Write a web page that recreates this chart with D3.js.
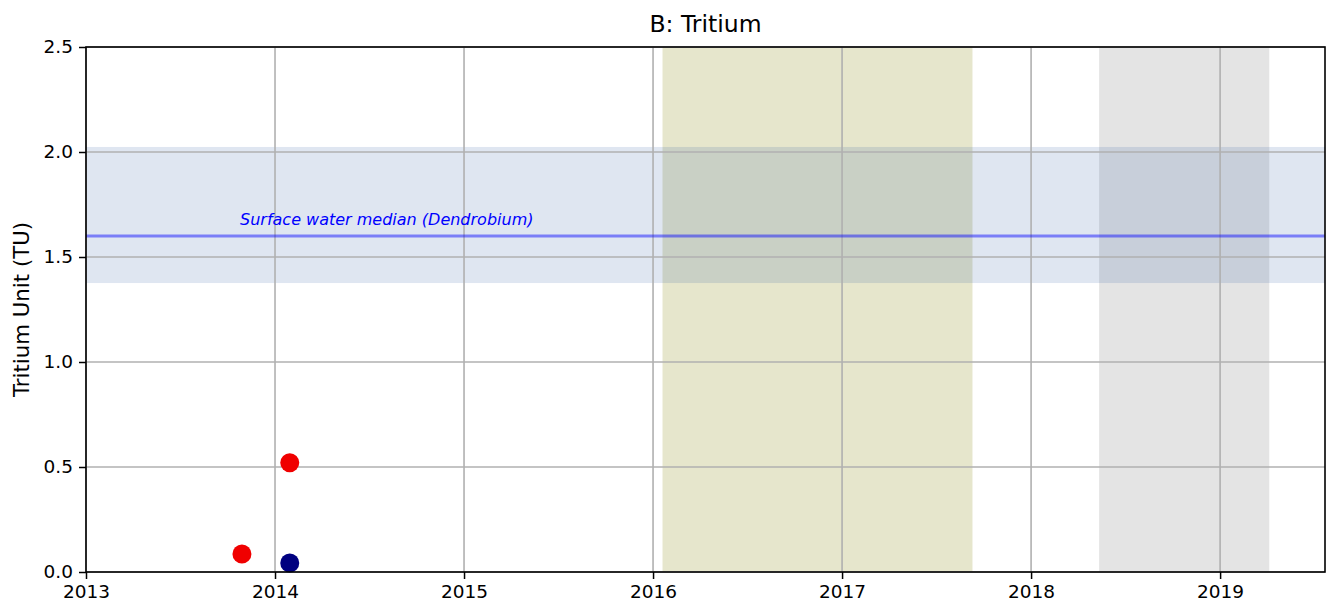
<!DOCTYPE html>
<html><head><meta charset="utf-8">
<script src="https://cdn.jsdelivr.net/npm/d3@7"></script>
<style>body{margin:0;background:#fff;} text{font-family:"DejaVu Sans",sans-serif;}</style>
</head><body>
<svg id="c" width="1331" height="608"></svg>
<script>
const title = "B: Tritium";
const yLabel = "Tritium Unit (TU)";
const xDomain = [2013, 2019.555];
const yDomain = [0, 2.5];
const xTicks = [2013, 2014, 2015, 2016, 2017, 2018, 2019];
const yTicks = [0, 0.5, 1.0, 1.5, 2.0, 2.5];
const redX = [2013.825, 2014.078];
const redY = [0.086, 0.52];
const navyX = [2014.078];
const navyY = [0.043];
const bandRange = [1.376, 2.024];
const medianValue = 1.6;
const medianLabel = "Surface water median (Dendrobium)";
const olivePeriod = [2016.05, 2017.69];
const grayPeriod = [2018.36, 2019.26];

const m = {l: 86, r: 1331 - 1325, t: 47, b: 608 - 572};
const W = 1331, H = 608;
const svg = d3.select("#c");
const x = d3.scaleLinear().domain(xDomain).range([m.l, W - m.r]);
const y = d3.scaleLinear().domain(yDomain).range([H - m.b, m.t]);

// spans
svg.append("rect").attr("x", x(olivePeriod[0])).attr("width", x(olivePeriod[1]) - x(olivePeriod[0]))
  .attr("y", y(2.5)).attr("height", y(0) - y(2.5)).attr("fill", "rgb(128,128,0)").attr("fill-opacity", 0.2);
svg.append("rect").attr("x", x(grayPeriod[0])).attr("width", x(grayPeriod[1]) - x(grayPeriod[0]))
  .attr("y", y(2.5)).attr("height", y(0) - y(2.5)).attr("fill", "rgb(128,128,128)").attr("fill-opacity", 0.21);
// band
svg.append("rect").attr("x", x(xDomain[0])).attr("width", x(xDomain[1]) - x(xDomain[0]))
  .attr("y", y(bandRange[1])).attr("height", y(bandRange[0]) - y(bandRange[1]))
  .attr("fill", "rgb(40,90,160)").attr("fill-opacity", 0.15);

// grid
const g = svg.append("g");
g.selectAll(".vx").data(xTicks).join("line").attr("x1", d => x(d)).attr("x2", d => x(d))
  .attr("y1", y(0)).attr("y2", y(2.5)).attr("stroke", "#b0b0b0").attr("stroke-width", 1.6);
g.selectAll(".hy").data(yTicks).join("line").attr("y1", d => y(d)).attr("y2", d => y(d))
  .attr("x1", x(xDomain[0])).attr("x2", x(xDomain[1])).attr("stroke", "#b0b0b0").attr("stroke-width", 1.6);

// median line
svg.append("line").attr("x1", x(xDomain[0])).attr("x2", x(xDomain[1]))
  .attr("y1", y(medianValue)).attr("y2", y(medianValue))
  .attr("stroke", "blue").attr("stroke-opacity", 0.45).attr("stroke-width", 3);
svg.append("text").attr("x", x(2013.815)).attr("y", y(medianValue) - 11)
  .attr("fill", "blue").attr("font-style", "italic").attr("font-size", 16).text(medianLabel);

// points
svg.selectAll(".r").data(redX.map((d, i) => [d, redY[i]])).join("circle")
  .attr("cx", d => x(d[0])).attr("cy", d => y(d[1])).attr("r", 9.5).attr("fill", "#f00000");
svg.selectAll(".n").data(navyX.map((d, i) => [d, navyY[i]])).join("circle")
  .attr("cx", d => x(d[0])).attr("cy", d => y(d[1])).attr("r", 9.5).attr("fill", "#000080");

// axes
const xa = svg.append("g").attr("transform", `translate(0,${y(0)})`)
  .call(d3.axisBottom(x).tickValues(xTicks).tickFormat(d3.format("d")).tickSize(7).tickPadding(6));
const ya = svg.append("g").attr("transform", `translate(${x(xDomain[0])},0)`)
  .call(d3.axisLeft(y).tickValues(yTicks).tickFormat(d3.format(".1f")).tickSize(7).tickPadding(6));
[xa, ya].forEach(a => {
  a.select(".domain").remove();
  a.attr("font-size", 18.5).attr("font-family", "DejaVu Sans");
  a.selectAll("line").attr("stroke", "#000").attr("stroke-width", 1.5);
  a.selectAll("text").attr("fill", "#000");
});
// frame
svg.append("rect").attr("x", x(xDomain[0])).attr("y", y(2.5))
  .attr("width", x(xDomain[1]) - x(xDomain[0])).attr("height", y(0) - y(2.5))
  .attr("fill", "none").attr("stroke", "#000").attr("stroke-width", 1.6);

svg.append("text").attr("x", (x(xDomain[0]) + x(xDomain[1])) / 2).attr("y", 32)
  .attr("text-anchor", "middle").attr("font-size", 23.5).text(title);
svg.append("text").attr("transform", `translate(29,${(y(0) + y(2.5)) / 2}) rotate(-90)`)
  .attr("text-anchor", "middle").attr("font-size", 21.3).text(yLabel);
</script>
</body></html>
